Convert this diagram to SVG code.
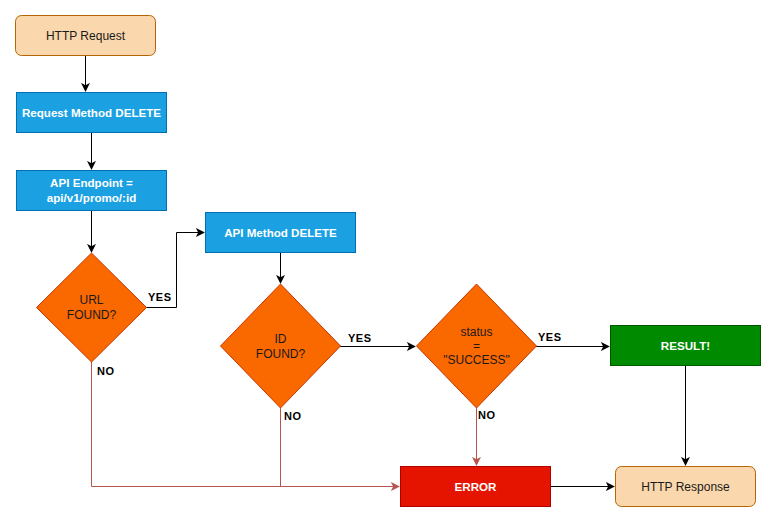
<svg xmlns="http://www.w3.org/2000/svg" width="776" height="522" viewBox="0 0 776 522">
  <defs>
    <marker id="arrow" viewBox="0 0 10 10" refX="9" refY="5" markerWidth="9" markerHeight="9" markerUnits="userSpaceOnUse" orient="auto">
      <path d="M0,0 L10,5 L0,10 L2.5,5 Z" fill="#000"/>
    </marker>
    <marker id="arrowRed" viewBox="0 0 10 10" refX="9" refY="5" markerWidth="9" markerHeight="9" markerUnits="userSpaceOnUse" orient="auto">
      <path d="M0,0 L10,5 L0,10 L2.5,5 Z" fill="#b85450"/>
    </marker>
    <style>
      text { font-family: "Liberation Sans", Arial, sans-serif; font-size: 12px; text-anchor: middle; }
      .term { fill: #fad7ac; stroke: #b46504; stroke-width: 1; }
      .proc { fill: #1ba1e2; stroke: #006eaf; stroke-width: 1; }
      .dec { fill: #fa6800; stroke: #c73500; stroke-width: 1; }
      .ok { fill: #008a00; stroke: #005700; stroke-width: 1; }
      .err { fill: #e51400; stroke: #b20000; stroke-width: 1; }
      .white { fill: #ffffff; font-weight: bold; font-size: 11.6px; }
      .dark { fill: #1a1a1a; }
      .lbl { fill: #000; font-size: 11px; font-weight: bold; text-anchor: start; letter-spacing: 0.5px; }
      .edge { fill: none; stroke: #000; stroke-width: 1; }
      .edgeNo { fill: none; stroke: #b85450; stroke-width: 1; }
    </style>
  </defs>

  <!-- connectors -->
  <g id="connectors">
    <path class="edge" d="M85.5,55 V91" marker-end="url(#arrow)"/>
    <path class="edge" d="M91.5,132 V169" marker-end="url(#arrow)"/>
    <path class="edge" d="M91.5,210 V252" marker-end="url(#arrow)"/>
    <path class="edge" d="M146,307.5 H176.5 V232.5 H204" marker-end="url(#arrow)"/>
    <path class="edge" d="M280.5,252 V283" marker-end="url(#arrow)"/>
    <path class="edge" d="M340,346.5 H415" marker-end="url(#arrow)"/>
    <path class="edge" d="M536,346.5 H609" marker-end="url(#arrow)"/>
    <path class="edge" d="M685.5,366 V465" marker-end="url(#arrow)"/>
    <path class="edge" d="M550,486.5 H614" marker-end="url(#arrow)"/>
    <path class="edgeNo" d="M476.5,408 V465" marker-end="url(#arrowRed)"/>
    <path class="edgeNo" d="M91.5,361 V486.5 H399" marker-end="url(#arrowRed)"/>
    <path class="edgeNo" d="M280.5,408 V486.5"/>
    <text class="lbl" x="148" y="301">YES</text>
    <text class="lbl" x="97" y="375">NO</text>
    <text class="lbl" x="348" y="342">YES</text>
    <text class="lbl" x="284" y="420">NO</text>
    <text class="lbl" x="538" y="341">YES</text>
    <text class="lbl" x="478" y="419">NO</text>
  </g>

  <g id="http-request">
    <rect class="term" x="15.5" y="15.5" width="140" height="40" rx="6"/>
    <text class="dark" x="85.5" y="39.5">HTTP Request</text>
  </g>

  <g id="request-method">
    <rect class="proc" x="16.5" y="92.5" width="150" height="40"/>
    <text class="white" x="91.5" y="116.5">Request Method DELETE</text>
  </g>

  <g id="api-endpoint">
    <rect class="proc" x="16.5" y="170.5" width="150" height="40"/>
    <text class="white" x="91.5" y="187">API Endpoint =</text>
    <text class="white" x="91.5" y="202">api/v1/promo/:id</text>
  </g>

  <g id="url-found">
    <path class="dec" d="M91.5,253 L146.5,307.5 L91.5,362 L36.5,307.5 Z"/>
    <text class="dark" x="91.5" y="304">URL</text>
    <text class="dark" x="91.5" y="319">FOUND?</text>
  </g>

  <g id="api-method">
    <rect class="proc" x="205.5" y="212.5" width="150" height="40"/>
    <text class="white" x="280.5" y="236.5">API Method DELETE</text>
  </g>

  <g id="id-found">
    <path class="dec" d="M280.5,284 L340.5,346 L280.5,408 L220.5,346 Z"/>
    <text class="dark" x="280.5" y="343">ID</text>
    <text class="dark" x="280.5" y="358">FOUND?</text>
  </g>

  <g id="status-check">
    <path class="dec" d="M476.5,284 L536.5,346 L476.5,408 L416.5,346 Z"/>
    <text class="dark" x="476.5" y="336">status</text>
    <text class="dark" x="476.5" y="350">=</text>
    <text class="dark" x="476.5" y="364">"SUCCESS"</text>
  </g>

  <g id="result">
    <rect class="ok" x="610.5" y="325.5" width="150" height="40"/>
    <text class="white" x="685.5" y="349.5">RESULT!</text>
  </g>

  <g id="error">
    <rect class="err" x="400.5" y="466.5" width="150" height="40"/>
    <text class="white" x="475.5" y="490.5">ERROR</text>
  </g>

  <g id="http-response">
    <rect class="term" x="615.5" y="466.5" width="140" height="40" rx="6"/>
    <text class="dark" x="685.5" y="490.5">HTTP Response</text>
  </g>
</svg>
